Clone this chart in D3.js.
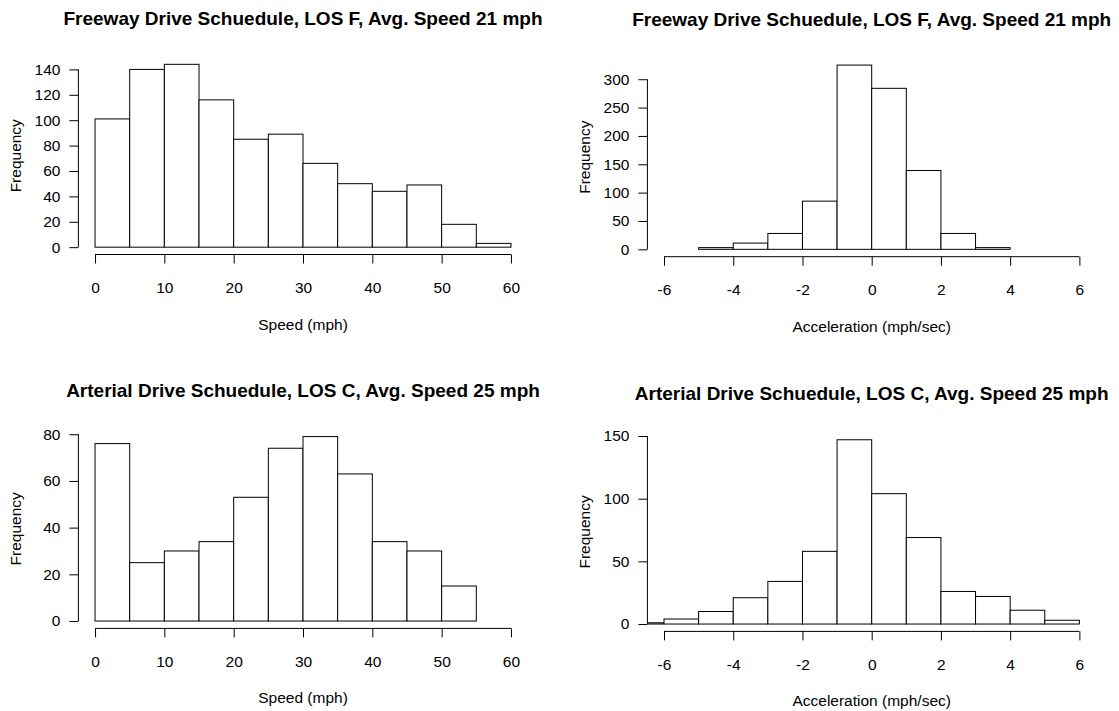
<!DOCTYPE html>
<html>
<head>
<meta charset="utf-8">
<script src="https://cdn.jsdelivr.net/npm/d3@7"></script>
<style>
  body { margin: 0; background: #fff; }
  svg { display: block; }
  text { font-family: "Liberation Sans", Arial, Helvetica, sans-serif; fill: #000; }
</style>
</head>
<body>
<svg id="chart" width="1119" height="711"></svg>
<script>
// ---------- DATA ----------
const titles = [
  "Freeway Drive Schuedule, LOS F, Avg. Speed 21 mph",
  "Freeway Drive Schuedule, LOS F, Avg. Speed 21 mph",
  "Arterial Drive Schuedule, LOS C, Avg. Speed 25 mph",
  "Arterial Drive Schuedule, LOS C, Avg. Speed 25 mph"
];
const xLabels = ["Speed (mph)", "Acceleration (mph/sec)", "Speed (mph)", "Acceleration (mph/sec)"];
const yLabel = "Frequency";

// bin edges (breaks)
const freewaySpeedBreaks = [0, 5, 10, 15, 20, 25, 30, 35, 40, 45, 50, 55, 60];
const freewaySpeedCounts = [101, 140, 144, 116, 85, 89, 66, 50, 44, 49, 18, 3];

const freewayAccelBreaks = [-5, -4, -3, -2, -1, 0, 1, 2, 3, 4];
const freewayAccelCounts = [3, 11, 28, 85, 325, 284, 139, 28, 3];

const arterialSpeedBreaks = [0, 5, 10, 15, 20, 25, 30, 35, 40, 45, 50, 55];
const arterialSpeedCounts = [76, 25, 30, 34, 53, 74, 79, 63, 34, 30, 15];

const arterialAccelBreaks = [-7, -6, -5, -4, -3, -2, -1, 0, 1, 2, 3, 4, 5, 6];
const arterialAccelCounts = [1, 4, 10, 21, 34, 58, 147, 104, 69, 26, 22, 11, 3];

// axis limits and ticks
const speedXlim = [0, 60];
const accelXlim = [-6, 6];
const speedXTicks = [0, 10, 20, 30, 40, 50, 60];
const accelXTicks = [-6, -4, -2, 0, 2, 4, 6];
const freewaySpeedYTicks = [0, 20, 40, 60, 80, 100, 120, 140];
const freewayAccelYTicks = [0, 50, 100, 150, 200, 250, 300];
const arterialSpeedYTicks = [0, 20, 40, 60, 80];
const arterialAccelYTicks = [0, 50, 100, 150];

// ---------- LAYOUT ----------
const layout = [
  { x0: 78.4, x1: 527.6, y0: 57.0, y1: 254.5 },
  { x0: 647.4, x1: 1096.0, y0: 57.7, y1: 256.7 },
  { x0: 78.4, x1: 527.6, y0: 429.2, y1: 628.4 },
  { x0: 647.4, x1: 1096.0, y0: 432.4, y1: 631.4 }
];

const panels = [
  { breaks: freewaySpeedBreaks, counts: freewaySpeedCounts, xlim: speedXlim, xTicks: speedXTicks, yTicks: freewaySpeedYTicks },
  { breaks: freewayAccelBreaks, counts: freewayAccelCounts, xlim: accelXlim, xTicks: accelXTicks, yTicks: freewayAccelYTicks },
  { breaks: arterialSpeedBreaks, counts: arterialSpeedCounts, xlim: speedXlim, xTicks: speedXTicks, yTicks: arterialSpeedYTicks },
  { breaks: arterialAccelBreaks, counts: arterialAccelCounts, xlim: accelXlim, xTicks: accelXTicks, yTicks: arterialAccelYTicks }
];

const tickFont = 15.5;
const titleFont = 19;
const tickLen = 9;
const fmt = d => String(d);  // plain hyphen-minus like the reference

const svg = d3.select("#chart");
svg.append("rect").attr("width", 1119).attr("height", 711).attr("fill", "#fff");

panels.forEach((p, i) => {
  const L = layout[i];
  const xr = p.xlim[1] - p.xlim[0];
  const ymax = d3.max(p.counts);
  const x = d3.scaleLinear()
    .domain([p.xlim[0] - 0.04 * xr, p.xlim[1] + 0.04 * xr])
    .range([L.x0, L.x1]);
  const y = d3.scaleLinear()
    .domain([-0.04 * ymax, ymax * 1.04])
    .range([L.y1, L.y0]);

  const g = svg.append("g");

  // clip to plot region
  const clipId = "clip" + i;
  svg.append("clipPath").attr("id", clipId)
    .append("rect")
    .attr("x", L.x0).attr("y", L.y0)
    .attr("width", L.x1 - L.x0).attr("height", L.y1 - L.y0);

  const bins = p.counts.map((c, k) => ({ a: p.breaks[k], b: p.breaks[k + 1], c }));

  g.append("g").attr("clip-path", `url(#${clipId})`)
    .selectAll("rect")
    .data(bins)
    .join("rect")
    .attr("x", d => x(d.a))
    .attr("y", d => y(d.c))
    .attr("width", d => x(d.b) - x(d.a))
    .attr("height", d => y(0) - y(d.c))
    .attr("fill", "#fff")
    .attr("stroke", "#000")
    .attr("stroke-width", 1);

  // x axis
  const xAxis = d3.axisBottom(x)
    .tickValues(p.xTicks)
    .tickFormat(fmt)
    .tickSize(tickLen)
    .tickPadding(18.5);
  const gx = g.append("g").attr("transform", `translate(0,${L.y1})`).call(xAxis);
  gx.select(".domain").remove();
  gx.append("line")
    .attr("x1", x(p.xTicks[0])).attr("x2", x(p.xTicks[p.xTicks.length - 1]))
    .attr("y1", 0).attr("y2", 0)
    .attr("stroke", "#000").attr("stroke-width", 1);

  // y axis
  const yAxis = d3.axisLeft(y)
    .tickValues(p.yTicks)
    .tickFormat(fmt)
    .tickSize(tickLen)
    .tickPadding(9);
  const gy = g.append("g").attr("transform", `translate(${L.x0},0)`).call(yAxis);
  gy.select(".domain").remove();
  gy.append("line")
    .attr("x1", 0).attr("x2", 0)
    .attr("y1", y(p.yTicks[0])).attr("y2", y(p.yTicks[p.yTicks.length - 1]))
    .attr("stroke", "#000").attr("stroke-width", 1);

  [gx, gy].forEach(ax => {
    ax.selectAll(".tick line").attr("stroke", "#000");
    ax.selectAll("text")
      .attr("font-size", tickFont)
      .attr("font-family", '"Liberation Sans", Arial, sans-serif')
      .attr("fill", "#000");
  });

  // title
  g.append("text")
    .attr("x", (L.x0 + L.x1) / 2)
    .attr("y", L.y0 - 32)
    .attr("text-anchor", "middle")
    .attr("font-size", titleFont)
    .attr("font-weight", "bold")
    .text(titles[i]);

  // x label
  g.append("text")
    .attr("x", (L.x0 + L.x1) / 2)
    .attr("y", L.y1 + 75)
    .attr("text-anchor", "middle")
    .attr("font-size", tickFont)
    .text(xLabels[i]);

  // y label
  const ly = (L.y0 + L.y1) / 2;
  const lx = L.x0 - 57;
  g.append("text")
    .attr("transform", `translate(${lx},${ly}) rotate(-90)`)
    .attr("text-anchor", "middle")
    .attr("font-size", tickFont)
    .text(yLabel);
});
</script>
</body>
</html>
